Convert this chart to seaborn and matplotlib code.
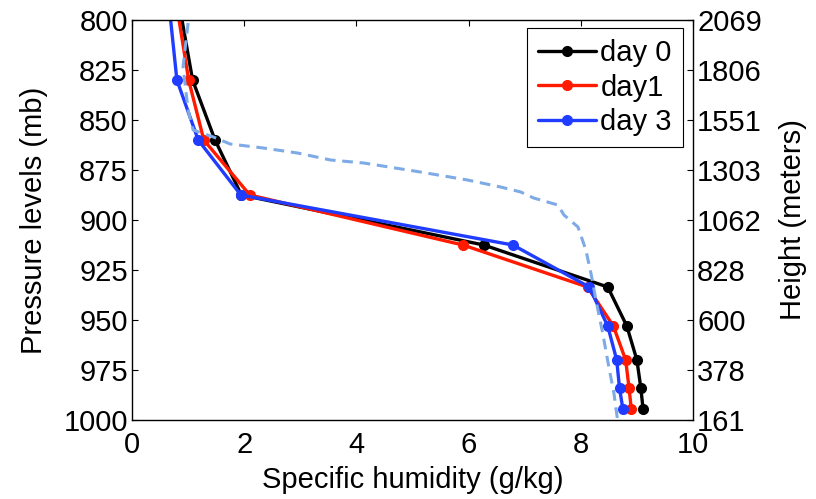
import matplotlib
matplotlib.use("Agg")
import matplotlib.pyplot as plt
import seaborn as sns
import pandas as pd
from matplotlib.lines import Line2D

# ---- data ----
pressure_levels = [795, 830, 860, 887.5, 912.5, 933.5, 953, 970, 984, 994.5]
q_day0 = [0.86, 1.08, 1.48, 1.95, 6.27, 8.48, 8.82, 9.00, 9.07, 9.11]
q_day1 = [0.81, 1.01, 1.28, 2.10, 5.90, 8.12, 8.58, 8.80, 8.86, 8.90]
q_day3 = [0.67, 0.80, 1.18, 1.94, 6.79, 8.15, 8.48, 8.64, 8.69, 8.75]
series_labels = ["day 0", "day1", "day 3"]

ref_pressure = [801.5, 823.5, 845, 855, 858.5, 862, 864, 866.5, 870, 871.5, 876,
                880, 883.5, 886, 889, 892.5, 897.5, 903.5, 915, 926.5, 940,
                956.5, 973.5, 986.5, 1001]
ref_q = [1.00, 0.91, 1.00, 1.09, 1.45, 1.75, 2.34, 2.95, 3.54, 4.13, 5.14,
         5.98, 6.57, 6.93, 7.16, 7.59, 7.70, 7.95, 8.09, 8.18, 8.27,
         8.39, 8.50, 8.59, 8.66]

pressure_ticks = [800, 825, 850, 875, 900, 925, 950, 975, 1000]
height_labels = ["2069", "1806", "1551", "1303", "1062", "828", "600", "378", "161"]
x_ticks = [0, 2, 4, 6, 8, 10]

# ---- figure ----
sns.set_style("white")
plt.rcParams["font.family"] = ["Liberation Sans", "DejaVu Sans"]
plt.rcParams["text.color"] = "black"
plt.rcParams["axes.labelcolor"] = "black"
plt.rcParams["xtick.color"] = "black"
plt.rcParams["ytick.color"] = "black"
FS = 21

fig = plt.figure(figsize=(8.16, 4.99), dpi=100)
ax = fig.add_axes([132 / 816, 1 - 420 / 499, (693 - 132) / 816, 400 / 499])

df = pd.DataFrame({
    "q": q_day0 + q_day1 + q_day3,
    "p": pressure_levels * 3,
    "series": [series_labels[0]] * len(q_day0) + [series_labels[1]] * len(q_day1)
              + [series_labels[2]] * len(q_day3),
})
palette = {series_labels[0]: "black", series_labels[1]: "#ff1a00", series_labels[2]: "#1f3cff"}
sns.lineplot(data=df, x="q", y="p", hue="series", palette=palette, sort=False,
             estimator=None, marker="o", markersize=8, markeredgewidth=0,
             linewidth=2.4, ax=ax, legend=False)

ref_df = pd.DataFrame({"q": ref_q, "p": ref_pressure})
sns.lineplot(data=ref_df, x="q", y="p", sort=False, estimator=None, color="#7eaae6",
             linewidth=2.2, linestyle=(0, (3.5, 2.2)), ax=ax)

ax.set_xlim(0, 10)
ax.set_ylim(1000, 800)
ax.set_xticks(x_ticks)
ax.set_yticks(pressure_ticks)
ax.set_xticklabels([str(t) for t in x_ticks], fontsize=FS)
ax.set_yticklabels([str(t) for t in pressure_ticks], fontsize=FS)
ax.set_xlabel("Specific humidity (g/kg)", fontsize=FS, labelpad=5)
ax.set_ylabel("Pressure levels (mb)", fontsize=FS, labelpad=11)
ax.tick_params(direction="in", length=4, width=0.8, top=True, right=False)
ax.tick_params(axis="x", pad=8)
ax.tick_params(axis="y", pad=3)
for s in ax.spines.values():
    s.set_visible(True)
    s.set_color("black")
    s.set_linewidth(1.0)

# legend
handles = [Line2D([], [], color=palette[l], marker="o", markersize=8,
                  markeredgewidth=0, linewidth=2.4) for l in series_labels]
leg = ax.legend(handles, series_labels, loc="upper right",
                bbox_to_anchor=((683 - 132) / 561, (420 - 28) / 400),
                borderaxespad=0, fontsize=FS, frameon=True, fancybox=False,
                edgecolor="black", framealpha=1, handlelength=2.0,
                handletextpad=0.15, labelspacing=0.22, borderpad=0.38)
leg.get_frame().set_linewidth(0.8)

# right axis: heights
ax2 = ax.twinx()
ax2.set_ylim(1000, 800)
ax2.set_yticks(pressure_ticks)
ax2.set_yticklabels(height_labels, fontsize=FS)
ax2.set_ylabel("Height (meters)", fontsize=FS, labelpad=12)
ax2.tick_params(direction="in", length=4, width=0.8, pad=3)
for s in ax2.spines.values():
    s.set_visible(False)

fig.savefig("out.png", dpi=100)
